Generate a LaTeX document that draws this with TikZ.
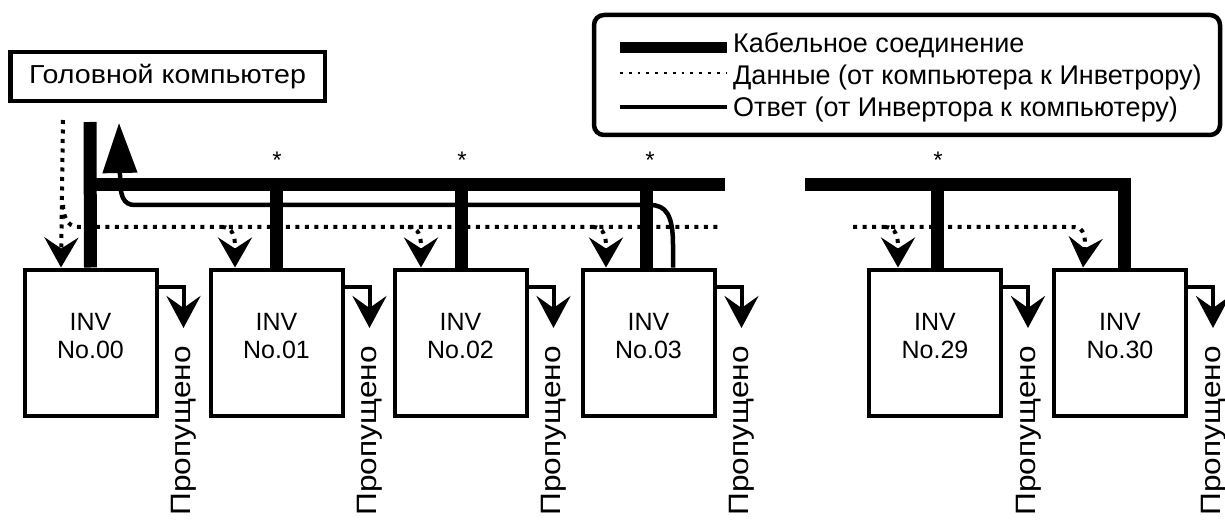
\documentclass[tikz,border=0pt]{standalone}
\usepackage{fontspec}
\setmainfont{Liberation Sans}
\usetikzlibrary{arrows.meta}
\tikzset{
  bus/.style={line width=13pt, line cap=butt, line join=miter},
  invbox/.style={draw, line width=4pt, minimum width=132pt, minimum height=146pt, inner sep=0pt},
  invtext/.style={align=center, inner sep=0pt, font=\fontsize{25}{28}\selectfont},
  skip/.style={line width=4pt, -{Stealth[length=32pt, width=34pt, inset=12pt]}},
  data/.style={line width=4pt, dash pattern=on 4pt off 5.5pt},
  datatip/.style={data, -{Stealth[length=30pt, width=34pt, inset=11pt]}},
  resp/.style={line width=4.5pt},
  skiptext/.style={rotate=90, anchor=base east, inner sep=0pt, font=\fontsize{28}{30}\selectfont},
  star/.style={anchor=base, inner sep=0pt, font=\fontsize{24}{26}\selectfont},
  legtext/.style={anchor=base west, inner sep=0pt, font=\fontsize{27}{29}\selectfont},
}
\begin{document}
\begin{tikzpicture}[x=1pt, y=-1pt]
\useasboundingbox (0,0) rectangle (1225,521);
% head computer
\node[draw, line width=4.5pt, minimum width=314.5pt, minimum height=49pt, inner sep=0pt,
      font=\fontsize{26}{28}\selectfont] (head) at (167.5,76.5) {\scalebox{1.1}[1]{Головной компьютер}};
% legend
\node[draw, line width=4.5pt, rounded corners=10pt, minimum width=626pt, minimum height=120pt] (legend) at (907,75) {};
\coordinate (l1a) at (620,47.5); \coordinate (l1b) at (727,47.5);
\coordinate (l2a) at (620,73);   \coordinate (l2b) at (727,73);
\coordinate (l3a) at (620,107);  \coordinate (l3b) at (727,107);
\draw[line width=11pt] (l1a) -- (l1b);
\draw[line width=2.8pt, dash pattern=on 2.8pt off 6pt] (l2a) -- (l2b);
\draw[line width=4pt] (l3a) -- (l3b);
\node[legtext] (lt1) at (733,53) {Кабельное соединение};
\node[legtext] (lt2) at (733,85) {Данные (от компьютера к Инветрору)};
\node[legtext] (lt3) at (733,117) {Ответ (от Инвертора к компьютеру)};
% inverter boxes
\node[invbox] (b00) at (90.5,342.5) {};
\node[invbox] (b01) at (276.5,342.5) {};
\node[invbox] (b02) at (460.5,342.5) {};
\node[invbox] (b03) at (648.5,342.5) {};
\node[invbox] (b29) at (935,342.5) {};
\node[invbox] (b30) at (1120,342.5) {};
\foreach \b/\n in {b00/00,b01/01,b02/02,b03/03,b29/29,b30/30}{
  \node[invtext] (t\n) at ([yshift=6pt]\b.center) {INV\\No.\n};
  \coordinate (s\n) at ([yshift=-19.5pt]\b.north east);
  \coordinate (a\n) at ([xshift=25pt, yshift=-60.5pt]\b.north east);
  \draw[skip] (s\n) -| (a\n);
  \node[skiptext] (p\n) at ([xshift=32pt, yshift=-78.5pt]\b.north east) {\scalebox{1.13}[1]{Пропущено}};
}
% data (dotted) lines
\coordinate (d0) at (63,120);
\coordinate (dL) at (80,227); \coordinate (dLe) at (722,227);
\coordinate (dR) at (853,227); \coordinate (dRe) at (1072,227);
\draw[datatip] (d0) -- ([xshift=38.5pt]b00.north west);
\draw[data] (63,205) .. controls (64,222) and (70,227) .. (dL) -- (dLe);
\foreach \b/\s in {b01/26.5,b02/28.5,b03/25.5,b29/31}{
  \draw[datatip] ([xshift=\s pt-13pt]\b.north west |- dL) .. controls ([xshift=\s pt-2pt]\b.north west |- dL) and ([xshift=\s pt, yshift=-10pt]\b.north west |- dL) .. ([xshift=\s pt, yshift=-20pt]\b.north west |- dL) -- ([xshift=\s pt]\b.north west);
}
\draw[datatip] (dR) -- (dRe) .. controls (1082,227) and (1085,232) .. (1085,245) -- ([xshift=31pt]b30.north west);
% response line
\coordinate (r3) at ([xshift=24.5pt]b03.north);
\coordinate (rtip) at (119,123);
\draw[resp, -{Triangle[length=50pt, width=34pt]}] (r3) -- (673,245) .. controls (673,215) and (666,205) .. (650,205) -- (135,205) .. controls (123,205) and (120,196) .. (120,175) -- (rtip);
% cable bus
\coordinate (bus0) at (90,122);
\coordinate (busL) at (84,185); \coordinate (busLe) at (725,185);
\coordinate (busR) at (805,185); \coordinate (busRc) at (1124,185);
\draw[bus] (bus0) -- (b00.north);
\draw[bus] (busL) -- (busLe);
\draw[bus] (busR) -- (busRc) -- (b30.north -| busRc);
\draw[bus] (b01.north |- busL) -- (b01.north);
\draw[bus] ([xshift=0.5pt]b02.north |- busL) -- ([xshift=0.5pt]b02.north);
\draw[bus] ([xshift=-2.5pt]b03.north |- busL) -- ([xshift=-2.5pt]b03.north);
\draw[bus] ([xshift=2pt]b29.north |- busL) -- ([xshift=2pt]b29.north);
% asterisks
\node[star] (st1) at (277,169) {*};
\node[star] (st2) at (462,169) {*};
\node[star] (st3) at (650,169) {*};
\node[star] (st4) at (938,169) {*};
\end{tikzpicture}
\end{document}
